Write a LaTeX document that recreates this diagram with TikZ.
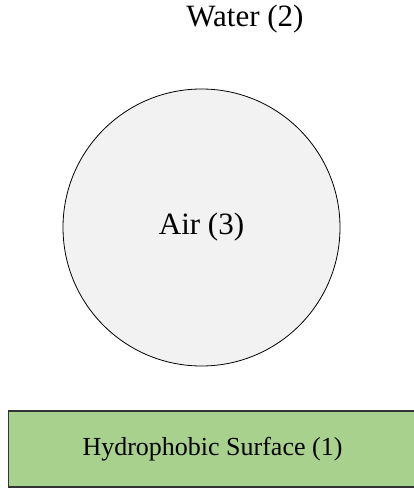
\documentclass[tikz,border=0pt]{standalone}
\usepackage{fontspec}
\setmainfont{Liberation Serif}
\usepackage{tikz}
\usetikzlibrary{positioning}
\definecolor{surfgreen}{HTML}{A9D18E}
\definecolor{airgray}{HTML}{F2F2F2}
\tikzset{
    bubble/.style={
        circle,
        draw=black,
        fill=airgray,
        line width=0.8pt,
        minimum size=277pt,
        inner sep=0pt,
        font=\fontsize{31}{36}\selectfont
    },
    surface/.style={
        rectangle,
        draw=black!80,
        fill=surfgreen,
        line width=1.3pt,
        minimum width=412pt,
        minimum height=76pt,
        inner sep=0pt,
        font=\fontsize{26}{30}\selectfont
    }
}

\begin{document}
\begin{tikzpicture}[x=1pt, y=-1pt]
\useasboundingbox (0,0) rectangle (414,489);

% phases
\node[font=\fontsize{31}{36}\selectfont, anchor=base] (water) at (245,27) {Water (2)};
\node[bubble] (air) at (201.5,227.5) {Air (3)};
\node[surface] (surf) at (214.5,449) {\hspace*{-4pt}Hydrophobic Surface (1)};

\end{tikzpicture}
\end{document}
